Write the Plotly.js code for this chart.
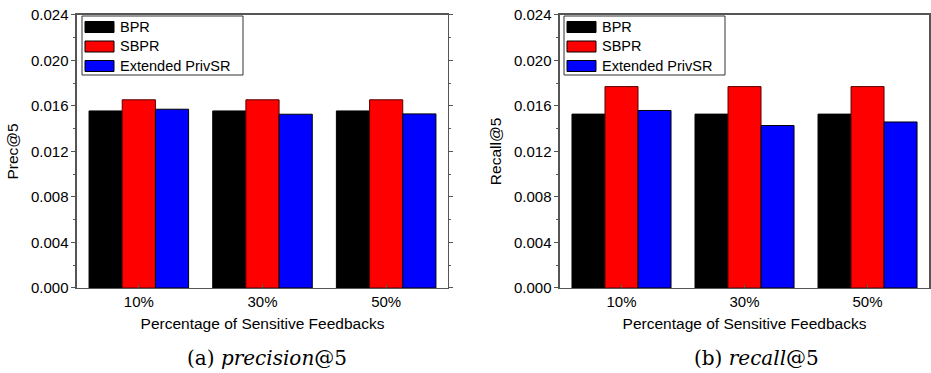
<!DOCTYPE html>
<html>
<head>
<meta charset="utf-8">
<script src="https://cdn.plot.ly/plotly-3.0.1.min.js"></script>
<style>html,body{margin:0;padding:0;background:#fff;}#chart{width:931px;height:373px;}</style>
</head>
<body>
<div id="chart"></div>
<script>
const categories = ["10%", "30%", "50%"];
const seriesNames = ["BPR", "SBPR", "Extended PrivSR"];
const precBPR = [0.01556, 0.01556, 0.01556];
const precSBPR = [0.01654, 0.01654, 0.01654];
const precPrivSR = [0.01571, 0.01527, 0.01530];
const recallBPR = [0.01528, 0.01528, 0.01528];
const recallSBPR = [0.01770, 0.01770, 0.01770];
const recallPrivSR = [0.01560, 0.01428, 0.01459];
const yTickVals = [0, 0.004, 0.008, 0.012, 0.016, 0.020, 0.024];
const yTickText = ["0.000", "0.004", "0.008", "0.012", "0.016", "0.020", "0.024"];

const W = 931, H = 373;
const colors = ["#000000", "#ff0000", "#0000ff"];
const edgeColors = ["#000000", "#5a0000", "#000000"];
const font = "Liberation Sans, Arial, sans-serif";

function bar(name, y, i, xa, ya) {
  return {
    type: "bar", name: name, x: categories, y: y,
    xaxis: xa, yaxis: ya, showlegend: false,
    marker: {color: colors[i], line: {color: edgeColors[i], width: 1}},
    hoverinfo: "skip"
  };
}

const data = [
  bar(seriesNames[0], precBPR, 0, "x", "y"),
  bar(seriesNames[1], precSBPR, 1, "x", "y"),
  bar(seriesNames[2], precPrivSR, 2, "x", "y"),
  bar(seriesNames[0], recallBPR, 0, "x2", "y2"),
  bar(seriesNames[1], recallSBPR, 1, "x2", "y2"),
  bar(seriesNames[2], recallPrivSR, 2, "x2", "y2")
];

function xaxis(domain, anchor) {
  return {
    domain: domain, anchor: anchor, range: [-0.5, 2.5], type: "category",
    showline: true, linecolor: "#555", linewidth: 1.5, mirror: true,
    ticks: "inside", ticklen: 4, tickcolor: "#555",
    tickfont: {family: font, size: 15, color: "#000"},
    title: {text: "Percentage of Sensitive Feedbacks", font: {family: font, size: 15.5, color: "#000"}, standoff: 8},
    showgrid: false, zeroline: false, fixedrange: true
  };
}
function yaxis(title, anchor) {
  return {
    domain: [0.228, 0.96], anchor: anchor, range: [0, 0.024],
    tickvals: yTickVals, ticktext: yTickText,
    showline: true, linecolor: "#555", linewidth: 1.5, mirror: "ticks",
    ticks: "outside", ticklen: 4, tickcolor: "#555",
    minor: {dtick: 0.002, tick0: 0, ticks: "outside", ticklen: 2, tickcolor: "#555", showgrid: false},
    tickfont: {family: font, size: 15, color: "#000"},
    title: {text: title, font: {family: font, size: 15.5, color: "#000"}, standoff: 8},
    showgrid: false, zeroline: false, fixedrange: true
  };
}

// Custom legend boxes (pixel layout -> paper coords)
const px = (x) => x / W;
const py = (y) => 1 - y / H;
const shapes = [];
const annotations = [];
function addLegend(left) {
  shapes.push({type: "rect", xref: "paper", yref: "paper",
    x0: px(left), x1: px(left + 161), y0: py(16), y1: py(75),
    line: {color: "#333", width: 1}, fillcolor: "#fff", layer: "above"});
  seriesNames.forEach((name, i) => {
    const cy = 27 + i * 19.5;
    shapes.push({type: "rect", xref: "paper", yref: "paper",
      x0: px(left + 3), x1: px(left + 32), y0: py(cy - 5.5), y1: py(cy + 5.5),
      line: {color: "#000", width: 1}, fillcolor: colors[i], layer: "above"});
    annotations.push({text: name, xref: "paper", yref: "paper",
      x: px(left + 36), y: py(cy), xanchor: "left", yanchor: "middle",
      showarrow: false, font: {family: font, size: 14.5, color: "#000"}});
  });
}
addLegend(82);
addLegend(564);

const capFont = {family: "DejaVu Serif, Liberation Serif, serif", size: 20, color: "#000"};
annotations.push({text: "(a) <i>precision</i>@5", xref: "paper", yref: "paper", x: px(266.5), y: py(358),
  xanchor: "center", yanchor: "middle", showarrow: false, font: capFont});
annotations.push({text: "(b) <i>recall</i>@5", xref: "paper", yref: "paper", x: px(756), y: py(358),
  xanchor: "center", yanchor: "middle", showarrow: false, font: capFont});

const layout = {
  width: W, height: H,
  margin: {l: 0, r: 0, t: 0, b: 0},
  paper_bgcolor: "#fff", plot_bgcolor: "#fff",
  barmode: "group", bargap: 0.195, bargroupgap: 0,
  showlegend: false,
  xaxis: xaxis([0.0827, 0.4812], "y"),
  yaxis: yaxis("Prec@5", "x"),
  xaxis2: xaxis([0.6015, 0.9979], "y2"),
  yaxis2: yaxis("Recall@5", "x2"),
  shapes: shapes,
  annotations: annotations
};

Plotly.newPlot("chart", data, layout, {displayModeBar: false, staticPlot: true});
</script>
</body>
</html>
